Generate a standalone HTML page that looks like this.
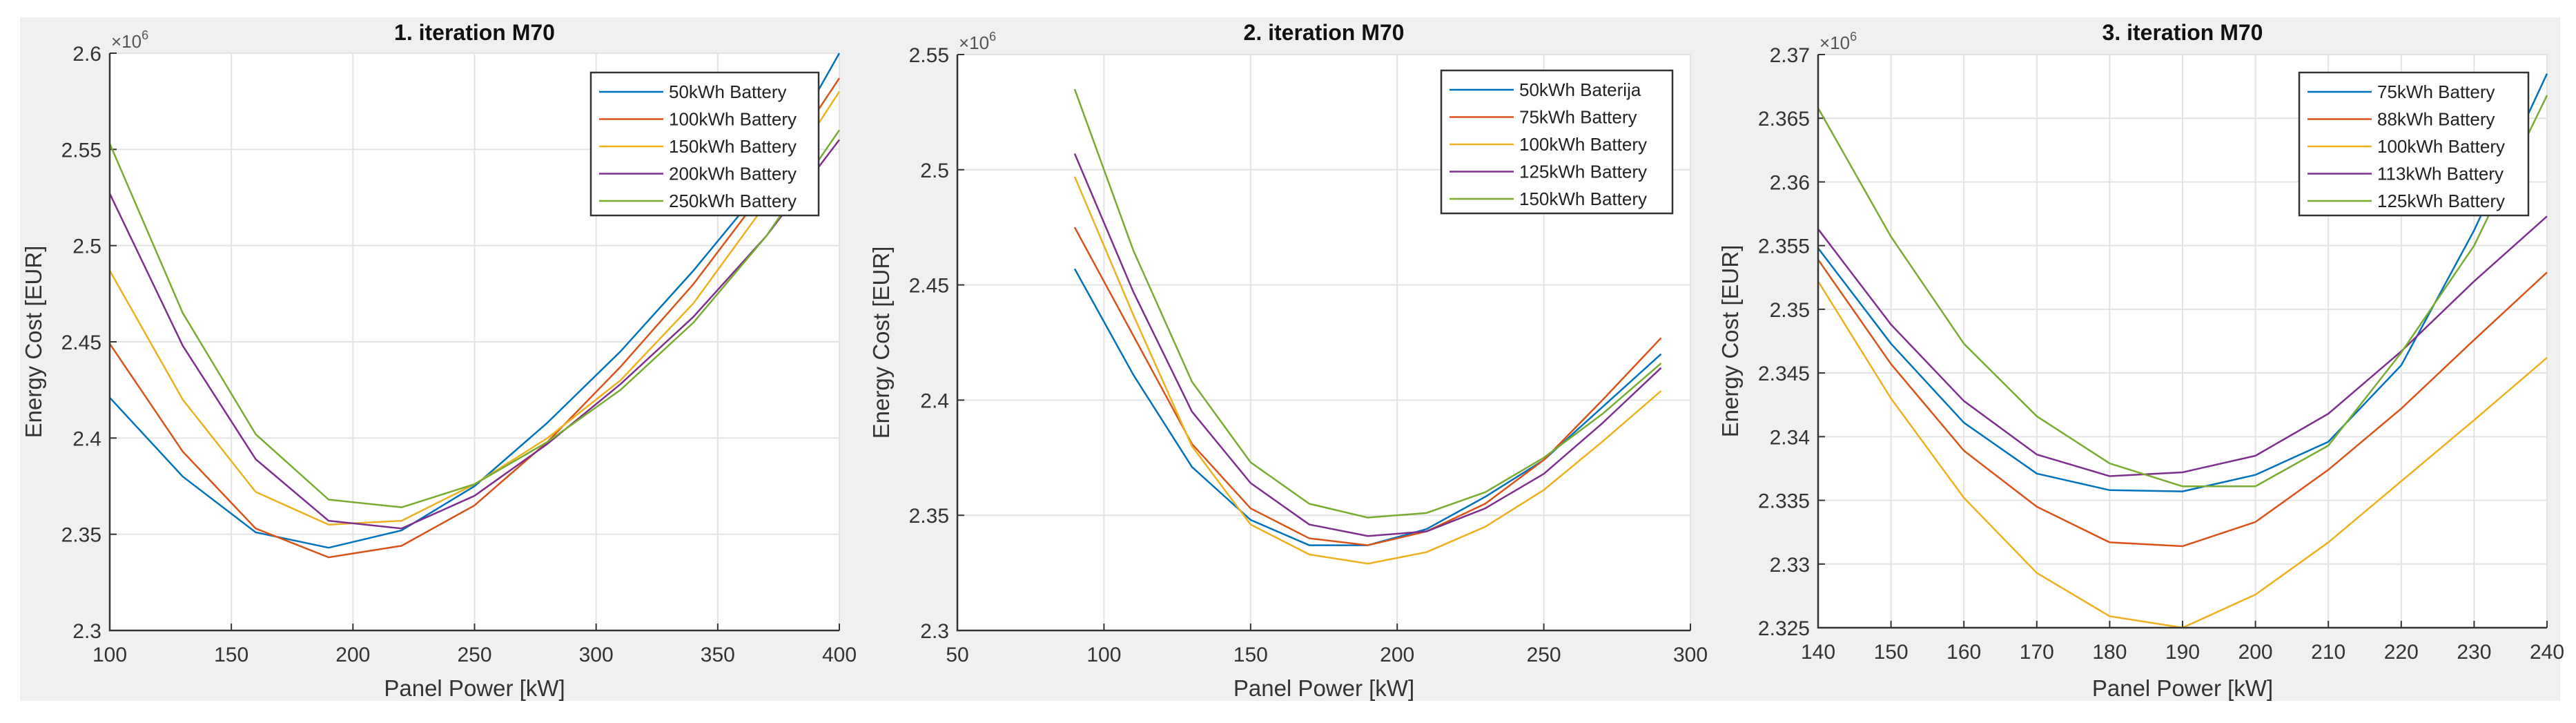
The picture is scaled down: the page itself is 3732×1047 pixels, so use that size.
<!DOCTYPE html>
<html><head><meta charset="utf-8"><style>
html,body{margin:0;padding:0;background:#fff;}
svg{display:block;font-family:"Liberation Sans",Arial,sans-serif;}
</style></head><body>
<svg id="fig" width="3732" height="1047" viewBox="0 0 3732 1047" xmlns="http://www.w3.org/2000/svg">
<rect x="29" y="25" width="3680" height="990" fill="#f0f0f0"/>
</svg>
<script>
const colors = ['#0072BD','#D95319','#EDB120','#7E2F8E','#77AC30'];

const x1 = [100,130,160,190,220,250,280,310,340,370,400];
const c1s1 = [2.421,2.380,2.351,2.343,2.352,2.375,2.408,2.445,2.487,2.533,2.600];
const c1s2 = [2.449,2.393,2.353,2.338,2.344,2.365,2.398,2.437,2.480,2.530,2.587];
const c1s3 = [2.487,2.420,2.372,2.355,2.357,2.376,2.400,2.430,2.470,2.522,2.580];
const c1s4 = [2.527,2.448,2.389,2.357,2.353,2.370,2.397,2.428,2.463,2.505,2.555];
const c1s5 = [2.553,2.465,2.402,2.368,2.364,2.376,2.398,2.425,2.460,2.505,2.560];
const c1names = ['50kWh Battery','100kWh Battery','150kWh Battery','200kWh Battery','250kWh Battery'];
const c1xticks = [100,150,200,250,300,350,400];
const c1yticks = [2.3,2.35,2.4,2.45,2.5,2.55,2.6];

const x2 = [90,110,130,150,170,190,210,230,250,270,290];
const c2s1 = [2.457,2.411,2.371,2.348,2.337,2.337,2.344,2.358,2.374,2.397,2.420];
const c2s2 = [2.475,2.428,2.381,2.353,2.340,2.337,2.343,2.355,2.374,2.400,2.427];
const c2s3 = [2.497,2.437,2.380,2.346,2.333,2.329,2.334,2.345,2.361,2.382,2.404];
const c2s4 = [2.507,2.447,2.395,2.364,2.346,2.341,2.343,2.353,2.368,2.390,2.414];
const c2s5 = [2.535,2.465,2.408,2.373,2.355,2.349,2.351,2.360,2.375,2.394,2.416];
const c2names = ['50kWh Baterija','75kWh Battery','100kWh Battery','125kWh Battery','150kWh Battery'];
const c2xticks = [50,100,150,200,250,300];
const c2yticks = [2.3,2.35,2.4,2.45,2.5,2.55];

const x3 = [140,150,160,170,180,190,200,210,220,230,240];
const c3s1 = [2.3548,2.3473,2.3411,2.3371,2.3358,2.3357,2.3370,2.3396,2.3456,2.3562,2.3685];
const c3s2 = [2.3539,2.3457,2.3389,2.3345,2.3317,2.3314,2.3333,2.3374,2.3422,2.3476,2.3529];
const c3s3 = [2.3522,2.3430,2.3352,2.3293,2.3259,2.3250,2.3276,2.3317,2.3365,2.3413,2.3462];
const c3s4 = [2.3563,2.3488,2.3428,2.3386,2.3369,2.3372,2.3385,2.3418,2.3467,2.3522,2.3573];
const c3s5 = [2.3658,2.3557,2.3473,2.3416,2.3379,2.3361,2.3361,2.3393,2.3466,2.3550,2.3668];
const c3names = ['75kWh Battery','88kWh Battery','100kWh Battery','113kWh Battery','125kWh Battery'];
const c3xticks = [140,150,160,170,180,190,200,210,220,230,240];
const c3yticks = [2.325,2.33,2.335,2.34,2.345,2.35,2.355,2.36,2.365,2.37];

const NS='http://www.w3.org/2000/svg';
const fig=document.getElementById('fig');
function mk(tag,attrs,parent){const e=document.createElementNS(NS,tag);for(const k in attrs)e.setAttribute(k,attrs[k]);(parent||fig).appendChild(e);return e;}

function chart(idx,box,xs,series,names,xt,yt,title,ylabX,leg){
  const g=mk('g',{});
  
  
  const xmin=xt[0],xmax=xt[xt.length-1],ymin=yt[0],ymax=yt[yt.length-1];
  const sx=v=>box.l+(v-xmin)/(xmax-xmin)*(box.r-box.l);
  const sy=v=>box.b-(v-ymin)/(ymax-ymin)*(box.b-box.t);
  const bg=mk('rect',{x:box.l,y:box.t,width:box.r-box.l,height:box.b-box.t,fill:'#fff'},g);
  
  
  xt.forEach(v=>{
    const ln=mk('line',{x1:sx(v),x2:sx(v),y1:box.t,y2:box.b,stroke:'#e3e3e3','stroke-width':2},g);
    
    
    mk('line',{x1:sx(v),x2:sx(v),y1:box.b,y2:box.b-10,stroke:'#333','stroke-width':2},g);
    const t=mk('text',{x:sx(v),y:box.b+45,'font-size':30,fill:'#333','text-anchor':'middle'},g);
    t.textContent=String(v);
    
    
  });
  yt.forEach(v=>{
    const ln=mk('line',{x1:box.l,x2:box.r,y1:sy(v),y2:sy(v),stroke:'#e3e3e3','stroke-width':2},g);
    
    
    mk('line',{x1:box.l,x2:box.l+10,y1:sy(v),y2:sy(v),stroke:'#333','stroke-width':2},g);
    const t=mk('text',{x:box.l-12,y:sy(v)+11,'font-size':30,fill:'#333','text-anchor':'end'},g);
    t.textContent=String(v);
    
    
  });
  series.forEach((s,i)=>{
    const p=mk('polyline',{points:s.map((v,j)=>sx(xs[j])+','+sy(v)).join(' '),fill:'none',stroke:colors[i],'stroke-width':2.5,'stroke-linejoin':'round'},g);
    
    
  });
  const ax=mk('path',{d:`M${box.l} ${box.t}V${box.b}H${box.r}`,fill:'none',stroke:'#333','stroke-width':2.5},g);
  
  
  const tt=mk('text',{x:(box.l+box.r)/2,y:58,'font-size':32,'font-weight':'bold',fill:'#111','text-anchor':'middle'},g);
  tt.textContent=title;
  
  
  const ex=mk('text',{x:box.l+2,y:box.t-8,'font-size':26,fill:'#555'},g);
  ex.innerHTML='×10<tspan dy="-12" font-size="18">6</tspan>';
  
  
  const xl=mk('text',{x:(box.l+box.r)/2,y:1008,'font-size':33,fill:'#333','text-anchor':'middle'},g);
  xl.textContent='Panel Power [kW]';
  
  
  const cy=(box.t+box.b)/2;
  const yl=mk('text',{x:ylabX,y:cy,'font-size':33,fill:'#333','text-anchor':'middle',transform:`rotate(-90 ${ylabX} ${cy})`},g);
  yl.textContent='Energy Cost [EUR]';
  
  
  const lg=mk('g',{},g);
  
  
  mk('rect',{x:leg.x,y:leg.y,width:leg.w,height:207,fill:'#fff',stroke:'#333','stroke-width':2.5},lg);
  names.forEach((n,i)=>{
    const yy=leg.y+28+i*39.5;
    mk('line',{x1:leg.x+12,x2:leg.x+105,y1:yy,y2:yy,stroke:colors[i],'stroke-width':2.5},lg);
    const t=mk('text',{x:leg.x+113,y:yy+9,'font-size':26,fill:'#222'},lg);
    t.textContent=n;
    
    
  });
}
chart(1,{l:159,r:1216,t:77,b:913},x1,[c1s1,c1s2,c1s3,c1s4,c1s5],c1names,c1xticks,c1yticks,'1. iteration M70',60,{x:856,y:105,w:330});
chart(2,{l:1387,r:2449,t:79,b:913},x2,[c2s1,c2s2,c2s3,c2s4,c2s5],c2names,c2xticks,c2yticks,'2. iteration M70',1288,{x:2088,y:102,w:335});
chart(3,{l:2634,r:3690,t:79,b:909},x3,[c3s1,c3s2,c3s3,c3s4,c3s5],c3names,c3xticks,c3yticks,'3. iteration M70',2518,{x:3331,y:105,w:332});
</script>
</body></html>
